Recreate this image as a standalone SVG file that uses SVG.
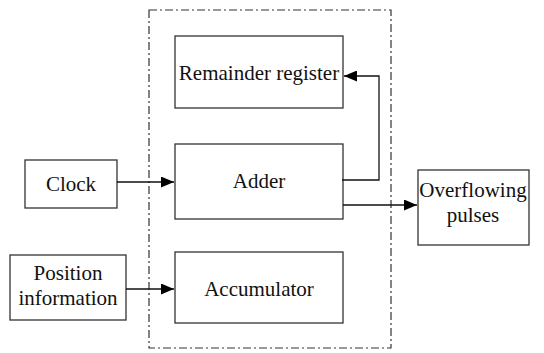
<svg xmlns="http://www.w3.org/2000/svg" width="544" height="353" viewBox="0 0 544 353">
<defs>
<marker id="ah" markerWidth="13" markerHeight="11" refX="13" refY="5.5" orient="auto" markerUnits="userSpaceOnUse">
<path d="M0,0 L13,5.5 L0,11 Z" fill="#000"/>
</marker>
<style>
.box{fill:#fff;stroke:#333;stroke-width:1.3}
.t{font-size:21px;fill:#111;text-anchor:middle}
.c{fill:none;stroke:#111;stroke-width:1.3}
.frame{fill:none;stroke:#333;stroke-width:1.2;stroke-dasharray:8 3 2 3}
</style>
</defs>
<rect class="frame" x="149" y="10" width="242" height="338"/>
<g font-family="Liberation Serif, DejaVu Serif, serif">
<g id="remainder"><rect class="box" x="175" y="36" width="168" height="72"/><text class="t" x="259" y="80">Remainder register</text></g>
<g id="adder"><rect class="box" x="175" y="144" width="168" height="75"/><text class="t" x="259" y="188">Adder</text></g>
<g id="accumulator"><rect class="box" x="175" y="252" width="168" height="71"/><text class="t" x="259" y="296">Accumulator</text></g>
<g id="clock"><rect class="box" x="25" y="160" width="92" height="48"/><text class="t" x="71" y="191">Clock</text></g>
<g id="position"><rect class="box" x="10" y="255" width="116" height="65"/><text class="t" x="68" y="280">Position</text><text class="t" x="68" y="305">information</text></g>
<g id="overflow"><rect class="box" x="418" y="170" width="111" height="75"/><text class="t" x="473" y="197">Overflowing</text><text class="t" x="473" y="222">pulses</text></g>
</g>
<g id="connectors">
<path class="c" d="M117,182 H174" marker-end="url(#ah)"/>
<path class="c" d="M126,289 H174" marker-end="url(#ah)"/>
<path class="c" d="M343,205 H417" marker-end="url(#ah)"/>
<path class="c" d="M342,180 H379 V76 H344" marker-end="url(#ah)"/>
</g>
</svg>
